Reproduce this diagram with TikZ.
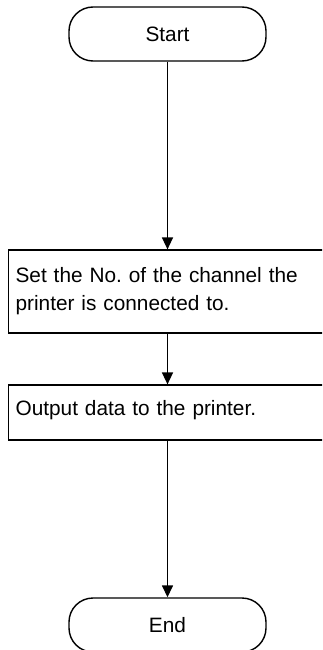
\documentclass[tikz,border=0pt]{standalone}
\usepackage{fontspec}
\setmainfont{Liberation Sans}
\usetikzlibrary{arrows.meta, positioning, calc}

\tikzset{
  terminal/.style={draw, line width=1.4pt, rounded corners=24pt,
    minimum width=197pt, minimum height=54pt, inner sep=0pt},
  procbox/.style={draw, line width=1.2pt, anchor=west, align=left,
    text width=316pt, inner xsep=7pt, inner ysep=0pt,
    execute at begin node=\vspace*{4pt}},
  flow/.style={-{Triangle[length=12pt,width=11pt]}, line width=1.5pt}
}

\begin{document}
\frenchspacing
\begin{tikzpicture}[x=1pt,y=-1pt, font=\fontsize{20.8}{24}\selectfont]

\clip (0,0) rectangle (322,650);

% --- Inizio
\node[terminal] (start) at (167.5,34) {Start};

% --- Canale della stampante
\node[procbox, minimum height=83pt] (setch) at (8,291.5)
  {Set the No. of the channel the\\printer is connected to.};

% --- Uscita dati
\node[procbox, minimum height=55pt] (output) at (8,412.5)
  {Output data to the printer.};

% --- Fine
\node[terminal] (stop) at (167.5,625) {End};

% --- Frecce
\draw[flow] (start.south) -- (start.south |- setch.north);
\draw[flow] (start.south |- setch.south) -- (start.south |- output.north);
\draw[flow] (start.south |- output.south) -- (stop.north);
\end{tikzpicture}
\end{document}
